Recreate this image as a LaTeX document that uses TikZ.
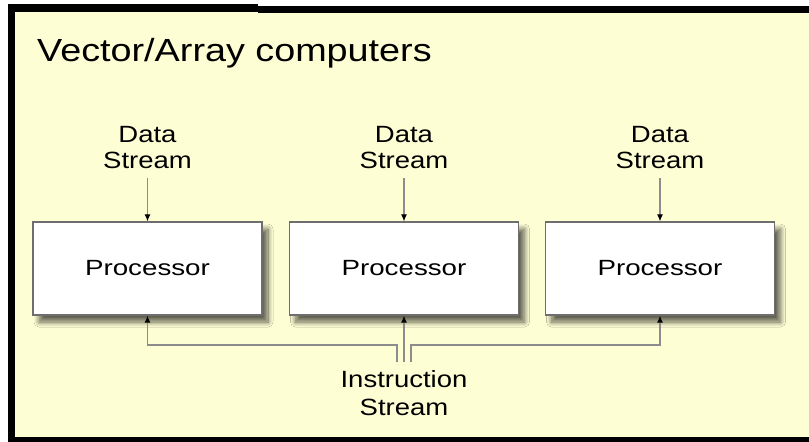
\documentclass[tikz,border=0pt]{standalone}
\usepackage{fontspec}
\setmainfont{Liberation Sans}
\newfontfamily\lblfont{Liberation Sans}[FakeStretch=1.17]
\newfontfamily\procfont{Liberation Sans}[FakeStretch=1.26]
\newfontfamily\titlefont{Liberation Sans}[FakeStretch=1.18]
\usetikzlibrary{arrows.meta,shadows.blur}
\definecolor{bgyellow}{HTML}{FEFED5}
\definecolor{linegray}{HTML}{8C8C8C}
\definecolor{boxborder}{HTML}{6E6E6E}
\tikzset{
  procbox/.style={draw=boxborder, line width=1.3pt, fill=white, minimum width=229pt, minimum height=93pt, inner sep=0pt,
    font=\procfont\fontsize{22}{26}\selectfont,
    blur shadow={shadow xshift=6pt, shadow yshift=-7pt, shadow blur radius=5pt, shadow blur steps=12, shadow opacity=62}},
  lbl/.style={align=center, inner sep=0pt, font=\lblfont\fontsize{23.5}{26}\selectfont},
  conn/.style={draw=linegray, line width=1.1pt},
  arr/.style={conn, -{Latex[length=7pt,width=6pt,color=black]}}
}
\begin{document}
\begin{tikzpicture}[x=1pt,y=-1pt]
\useasboundingbox (0,0) rectangle (809,442);
\fill[white] (0,0) rectangle (809,442);
\fill[bgyellow] (12,9) rectangle (809,440);
% borders
\fill[black] (8,4) rectangle (15,442);
\fill[black] (8,4) rectangle (258,12);
\fill[black] (258,6) rectangle (809,13);
\fill[black] (8,437) rectangle (809,442);
% title
\node[anchor=base west, inner sep=0pt, font=\titlefont\fontsize{32}{36}\selectfont] (title) at (37,61) {Vector/Array computers};
% processors
\node[procbox] (p1) at (147.5,268.5) {Processor};
\node[procbox] (p2) at (404,268.5) {Processor};
\node[procbox] (p3) at (660,268.5) {Processor};
% data streams
\node[lbl] (d1) at (147.5,148) {Data\\Stream};
\node[lbl] (d2) at (404,148) {Data\\Stream};
\node[lbl] (d3) at (660,148) {Data\\Stream};
\draw[arr, shorten <=9pt] (d1) -- (p1);
\draw[arr, shorten <=9pt] (d2) -- (p2);
\draw[arr, shorten <=9pt] (d3) -- (p3);
% instruction stream
\node[lbl, font=\lblfont\fontsize{23.5}{28}\selectfont] (is) at (404,393) {Instruction\\Stream};
\coordinate (il) at (397,362);
\coordinate (ir) at (411,362);
\coordinate (im) at (404,362);
\coordinate (hl) at (147.5,345);
\coordinate (hr) at (660,345);
\draw[arr] (il) -- (il |- hl) -- (hl) -- (p1.south);
\draw[arr] (ir) -- (ir |- hr) -- (hr) -- (p3.south);
\draw[arr] (im) -- (p2.south);
\end{tikzpicture}
\end{document}
